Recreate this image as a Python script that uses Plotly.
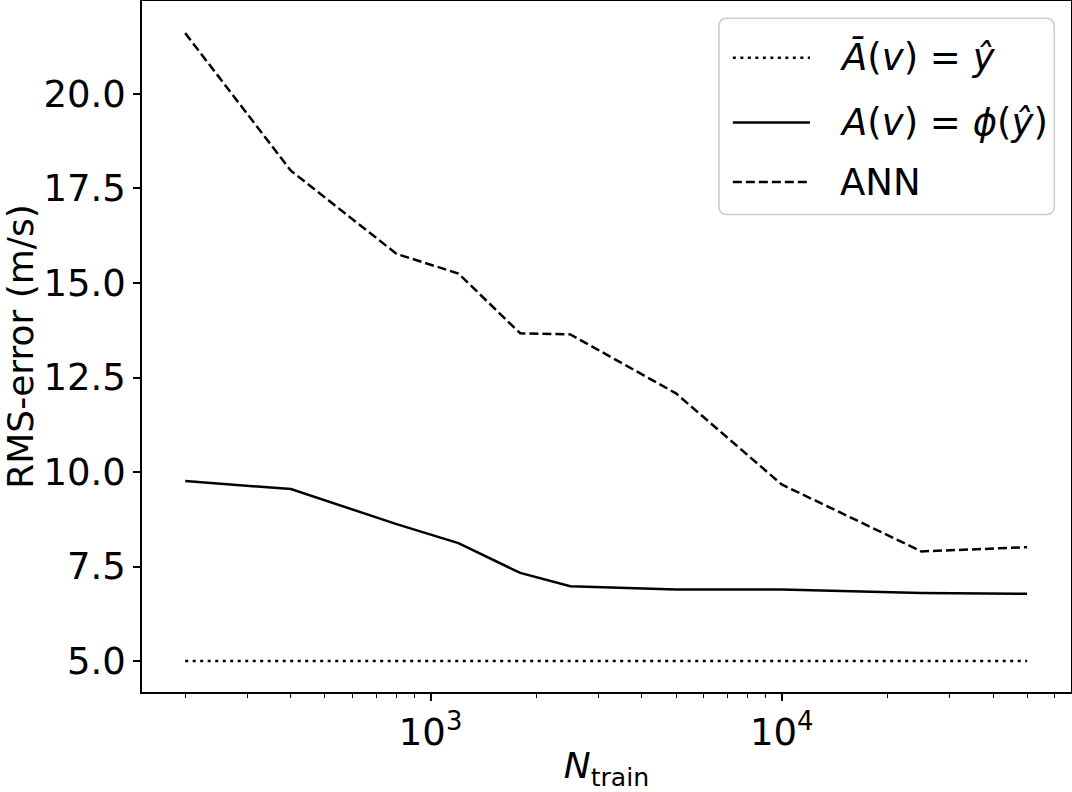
import plotly.graph_objects as go

# training set sizes
n_train = [200, 400, 800, 1200, 1800, 2500, 5000, 10000, 25000, 50000]

# RMS errors (m/s)
rms_abar = [5.0, 5.0, 5.0, 5.0, 5.0, 5.0, 5.0, 5.0, 5.0, 5.0]
rms_phi = [9.76, 9.55, 8.62, 8.12, 7.33, 6.98, 6.89, 6.89, 6.80, 6.78]
rms_ann = [21.61, 17.97, 15.77, 15.25, 13.67, 13.64, 12.08, 9.67, 7.90, 8.01]

names = ["<i>A\u0304</i>(<i>v</i>) = <i>y\u0302</i>",
         "<i>A</i>(<i>v</i>) = <i>\u03d5</i>(<i>y\u0302</i>)",
         "ANN"]
dashes = ["3px,4.5px", "solid", "9px,4px"]

minor_vals = [200, 300, 400, 500, 600, 700, 800, 900,
              2000, 3000, 4000, 5000, 6000, 7000, 8000, 9000,
              20000, 30000, 40000, 50000, 60000]

FONT = "DejaVu Sans"

fig = go.Figure()
for ys, nm, d in zip([rms_abar, rms_phi, rms_ann], names, dashes):
    fig.add_trace(go.Scatter(x=n_train, y=ys, mode="lines", name=nm,
                             showlegend=False,
                             line=dict(color="black", width=2.5, dash=d)))

# hand-made legend box (matplotlib style, long line samples)
r = 0.009
x0, x1, y0, y1 = 0.621, 0.982, 0.691, 0.975
ry = r * 929 / 692
box = (f"M{x0 + r},{y0} L{x1 - r},{y0} Q{x1},{y0} {x1},{y0 + ry} "
       f"L{x1},{y1 - ry} Q{x1},{y1} {x1 - r},{y1} L{x0 + r},{y1} "
       f"Q{x0},{y1} {x0},{y1 - ry} L{x0},{y0 + ry} Q{x0},{y0} {x0 + r},{y0} Z")
fig.add_shape(type="path", path=box, xref="paper", yref="paper",
              fillcolor="white", line=dict(color="#cccccc", width=1.5), layer="above")
for yy, nm, d in zip([0.918, 0.824, 0.738], names, dashes):
    fig.add_shape(type="line", xref="paper", yref="paper",
                  x0=0.636, x1=0.719, y0=yy, y1=yy, layer="above",
                  line=dict(color="black", width=2.5, dash=d))
    fig.add_annotation(x=0.749, y=yy, xref="paper", yref="paper", text=nm,
                       showarrow=False, xanchor="left", yanchor="middle",
                       font=dict(family=FONT, size=37, color="black"))

fig.update_layout(
    width=1072, height=792,
    margin=dict(l=142, r=1, t=1, b=100),
    paper_bgcolor="white", plot_bgcolor="white",
    font=dict(family=FONT, size=36, color="black"),
    xaxis=dict(type="log", range=[2.178, 4.824], automargin=False,
               tickvals=[1000, 10000],
               ticktext=["10<sup>3</sup>", "10<sup>4</sup>"],
               tickfont=dict(family=FONT, size=37, color="black"),
               ticks="outside", ticklen=7, tickwidth=1.5, tickcolor="black",
               minor=dict(tickmode="array", tickvals=minor_vals,
                          ticks="outside", ticklen=4, tickwidth=1, tickcolor="black"),
               showline=True, linecolor="black", linewidth=1.5, mirror=True,
               showgrid=False, zeroline=False,
               title=dict(text="<i>N</i><sub>train</sub>", standoff=8,
                          font=dict(family=FONT, size=36, color="black"))),
    yaxis=dict(range=[4.18, 22.46], automargin=False,
               tickvals=[5.0, 7.5, 10.0, 12.5, 15.0, 17.5, 20.0],
               tickformat=".1f",
               tickfont=dict(family=FONT, size=37, color="black"),
               ticks="outside", ticklen=7, tickwidth=1.5, tickcolor="black",
               showline=True, linecolor="black", linewidth=1.5, mirror=True,
               showgrid=False, zeroline=False,
               title=dict(text="RMS-error (m/s)", standoff=8,
                          font=dict(family=FONT, size=36, color="black"))),
)

fig.write_html("out.html", config={"displayModeBar": False},
               post_script="document.body.style.margin='0px';")
